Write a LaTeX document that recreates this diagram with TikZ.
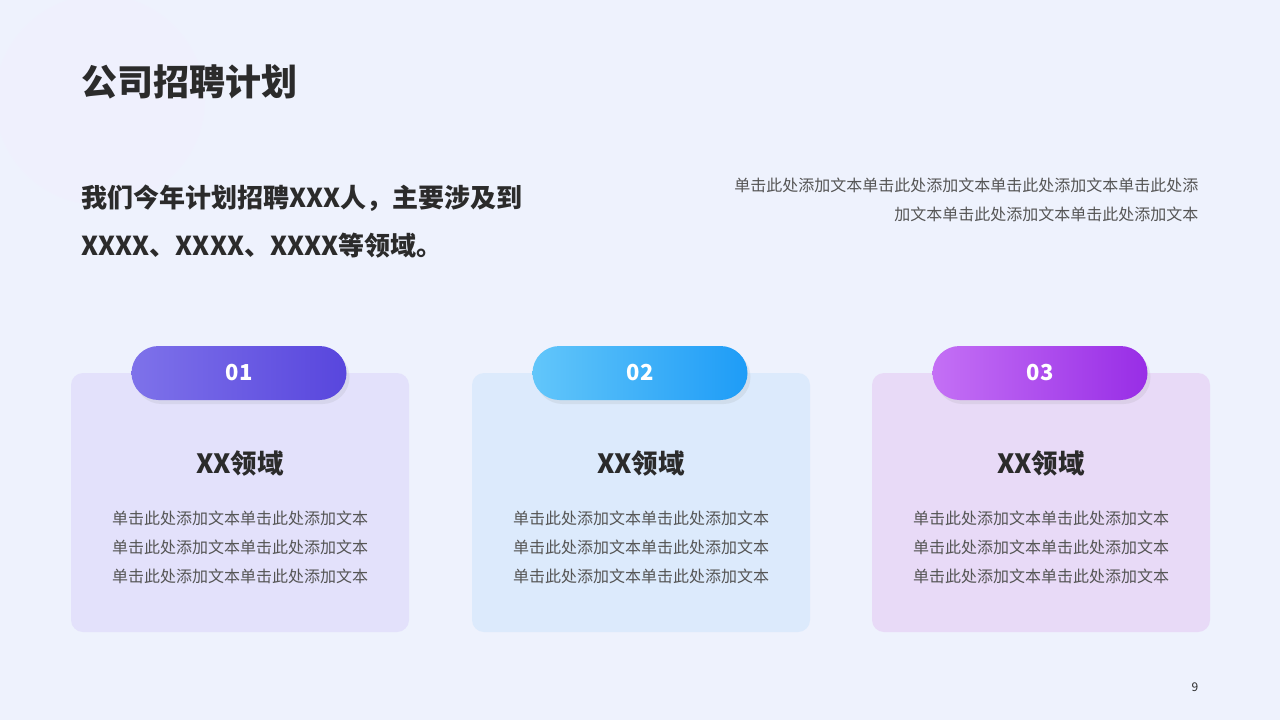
\documentclass[tikz,border=0pt]{standalone}
\usepackage{fontspec}
\setmainfont{Noto Sans CJK SC}
\usetikzlibrary{positioning, shadows, fadings}
\definecolor{BgBlue}{HTML}{EEF2FD}
\definecolor{InkDark}{HTML}{2B2B2B}
\definecolor{InkGray}{HTML}{555555}
\definecolor{CardA}{HTML}{E3E1FB}
\definecolor{CardB}{HTML}{DCEAFC}
\definecolor{CardC}{HTML}{E8DAF7}
\definecolor{PillAl}{HTML}{7E72EA}
\definecolor{PillAr}{HTML}{5846DD}
\definecolor{PillBl}{HTML}{62C6FA}
\definecolor{PillBr}{HTML}{1E9CF7}
\definecolor{PillCl}{HTML}{C470F5}
\definecolor{PillCr}{HTML}{982DE6}
\begin{document}
\begin{tikzpicture}[
    x=1pt, y=-1pt,
    card/.style={rectangle, rounded corners=12pt, minimum width=338pt, minimum height=259pt, draw=none},
    pill/.style={rectangle, rounded corners=27pt, minimum width=215pt, minimum height=54pt,
                 text=white, font=\fontsize{22}{22}\selectfont\bfseries,
                 drop shadow={opacity=0.12, shadow xshift=3pt, shadow yshift=-4pt}},
    heading/.style={font=\fontsize{26.5}{26.5}\selectfont\bfseries, text=InkDark},
    body/.style={font=\fontsize{16}{29}\selectfont, text=InkGray, align=center}
]
    % Background
    \useasboundingbox (0,0) rectangle (1280,720);
    \fill[BgBlue] (0,0) rectangle (1280,720);
    \fill[CardA!50, opacity=0.5] (100,100) circle (105);

    % Title and intro
    \node[anchor=west, font=\fontsize{36}{36}\selectfont\bfseries, text=InkDark] (title) at (78,82) {公司招聘计划};
    \node[anchor=north west, align=left, font=\fontsize{26}{48}\selectfont\bfseries, text=InkDark] (intro) at (78,181)
        {我们今年计划招聘XXX人，主要涉及到\\XXXX、XXXX、XXXX等领域。};
    \node[anchor=north east, align=right, font=\fontsize{16}{29}\selectfont, text=InkGray] (note) at (1202,174)
        {单击此处添加文本单击此处添加文本单击此处添加文本单击此处添\\加文本单击此处添加文本单击此处添加文本};

    % Cards
    \foreach \i/\cx/\cc/\pl/\pr in {1/240/CardA/PillAl/PillAr, 2/641/CardB/PillBl/PillBr, 3/1041/CardC/PillCl/PillCr}{
        \node[card, fill=\cc] (card\i) at (\cx,502.5) {};
        \node[pill, left color=\pl, right color=\pr] (pill\i) at (\cx-1,373) {0\i};
        \node[heading] (head\i) at (\cx,463) {XX领域};
        \node[body, below=28pt of head\i] (body\i)
            {单击此处添加文本单击此处添加文本\\单击此处添加文本单击此处添加文本\\单击此处添加文本单击此处添加文本};
    }

    % Page number
    \node[font=\fontsize{12}{12}\selectfont, text=InkDark] (page) at (1195,687) {9};
\end{tikzpicture}
\end{document}
